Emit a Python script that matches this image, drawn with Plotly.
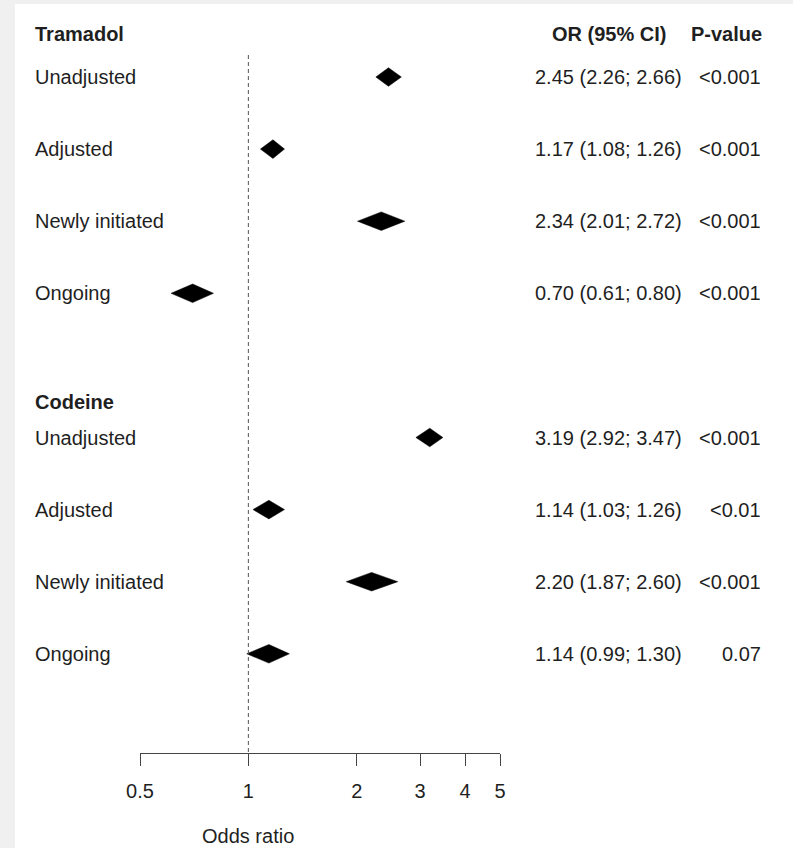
import math
import plotly.graph_objects as go

# ---- data ----
groups = ["Tramadol", "Codeine"]
labels = ["Unadjusted", "Adjusted", "Newly initiated", "Ongoing",
          "Unadjusted", "Adjusted", "Newly initiated", "Ongoing"]
rows = [1, 2, 3, 4, 6, 7, 8, 9]
or_vals = [2.45, 1.17, 2.34, 0.70, 3.19, 1.14, 2.20, 1.14]
ci_low = [2.26, 1.08, 2.01, 0.61, 2.92, 1.03, 1.87, 0.99]
ci_high = [2.66, 1.26, 2.72, 0.80, 3.47, 1.26, 2.60, 1.30]
p_values = ["<0.001", "<0.001", "<0.001", "<0.001",
            "<0.001", "<0.01", "<0.001", "0.07"]
tick_vals = [0.5, 1, 2, 3, 4, 5]
tick_text = ["0.5", "1", "2", "3", "4", "5"]

# ---- layout constants ----
W, H = 793, 848
L, R, T, B = 140, 293, 4, 95
PW = W - L - R
PH = H - T - B
ROW0_PX, ROW_STEP = 77, 72.1


def row_of(px):
    return 1 + (px - ROW0_PX) / ROW_STEP


def px_x(px):
    return (px - L) / PW


def px_y(px):
    return 1 - (px - T) / PH


y_top = row_of(T)
y_bot = row_of(H - B)
half_h = 9.3 / ROW_STEP

FONT = "Liberation Sans, Arial, sans-serif"
TXT = "#1f1f1f"
FS = 20

fig = go.Figure()

for r, o, lo, hi in zip(rows, or_vals, ci_low, ci_high):
    fig.add_trace(go.Scatter(
        x=[lo, o, hi, o, lo],
        y=[r, r - half_h, r, r + half_h, r],
        mode="lines", fill="toself", fillcolor="black",
        line=dict(color="black", width=0.5),
        hoverinfo="skip", showlegend=False))

shapes = [
    dict(type="rect", xref="paper", yref="paper",
         x0=px_x(15), x1=px_x(W + 5), y0=px_y(H + 5), y1=px_y(4),
         fillcolor="white", line=dict(width=0), layer="below"),
    dict(type="line", xref="x", yref="y", x0=1, x1=1,
         y0=row_of(55), y1=y_bot,
         line=dict(color="#555555", width=1, dash="4px,3px")),
]

ann = []
ann.append(dict(text="<b>Tramadol</b>", x=px_x(33), y=row_of(34)))
ann.append(dict(text="<b>Codeine</b>", x=px_x(33), y=row_of(402)))
for r, lab in zip(rows, labels):
    ann.append(dict(text=lab, x=px_x(33), y=r))
ann = [dict(a, xanchor="left") for a in ann]

ann.append(dict(text="<b>OR (95% CI)</b>", x=px_x(609), y=row_of(34), xanchor="center"))
ann.append(dict(text="<b>P-value</b>", x=px_x(764), y=row_of(34), xanchor="right"))
for r, o, lo, hi, p in zip(rows, or_vals, ci_low, ci_high, p_values):
    ann.append(dict(text=f"{o:.2f} ({lo:.2f}; {hi:.2f})", x=px_x(533), y=r, xanchor="left"))
    ann.append(dict(text=p, x=px_x(763), y=r, xanchor="right"))

annotations = []
for a in ann:
    a.update(xref="paper", yref="y", yanchor="middle", showarrow=False,
             font=dict(family=FONT, size=FS, color=TXT))
    annotations.append(a)

annotations.append(dict(text="Odds ratio", xref="x", yref="paper", x=0, y=px_y(836),
                        xanchor="center", yanchor="middle", showarrow=False,
                        font=dict(family=FONT, size=FS, color=TXT)))

fig.update_layout(
    width=W, height=H,
    margin=dict(l=L, r=R, t=T, b=B, pad=0),
    paper_bgcolor="#f0f0f0",
    plot_bgcolor="white",
    showlegend=False,
    shapes=shapes,
    annotations=annotations,
    xaxis=dict(type="log", range=[math.log10(0.5), math.log10(5)],
               tickvals=tick_vals, ticktext=tick_text,
               showline=True, linecolor="#444444", linewidth=1,
               ticks="outside", ticklen=12, tickcolor="#444444", tickwidth=1,
               showgrid=False, zeroline=False, ticklabelstandoff=8,
               tickfont=dict(family=FONT, size=FS, color=TXT)),
    yaxis=dict(range=[y_bot, y_top], visible=False, showgrid=False,
               zeroline=False),
)

fig.write_html(
    "out.html",
    config={"displayModeBar": False},
    post_script="document.body.style.margin='0';"
                "document.body.style.overflow='hidden';"
                "document.body.style.background='#f0f0f0';",
)
